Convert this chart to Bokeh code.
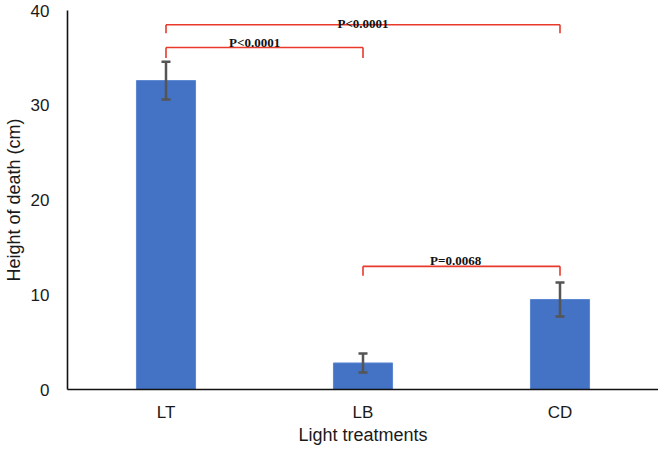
from bokeh.plotting import figure
from bokeh.models import FactorRange, Range1d, ColumnDataSource, Whisker, TeeHead
from bokeh.transform import dodge
from bokeh.core.properties import value
from bokeh.embed import file_html
from bokeh.resources import INLINE

# data
categories = ["LT", "LB", "CD"]
heights = [32.6, 2.8, 9.5]
errors = [2.0, 1.0, 1.8]

# significance brackets
bracket_left = ["LT", "LT", "LB"]
bracket_right = ["LB", "CD", "CD"]
bracket_top = [36.1, 38.5, 13.0]
bracket_foot = [35.0, 37.6, 12.0]
bracket_text = ["P<0.0001", "P<0.0001", "P=0.0068"]
text_y = [36.6, 38.6, 13.6]
text_shift = [0.45, 1.0, 0.47]

p = figure(width=658, height=447, x_range=FactorRange(*categories, range_padding=0),
           y_range=Range1d(0, 40), output_backend="svg", toolbar_location=None,
           min_border_left=58, min_border_right=0, min_border_top=10, min_border_bottom=55)
p.outline_line_color = None
p.xgrid.grid_line_color = None
p.ygrid.grid_line_color = None

src = ColumnDataSource(dict(x=categories, top=heights,
                            upper=[h + e for h, e in zip(heights, errors)],
                            lower=[h - e for h, e in zip(heights, errors)]))
p.vbar(x="x", top="top", width=0.3, source=src, fill_color="#4472C4", line_color="#5A85D0", line_width=1)

w = Whisker(base="x", upper="upper", lower="lower", source=src, level="overlay",
            line_color="#555555", line_width=2.5,
            upper_head=TeeHead(size=9, line_color="#555555", line_width=2.5),
            lower_head=TeeHead(size=9, line_color="#555555", line_width=2.5))
p.add_layout(w)

red = "#E8392B"
bsrc = ColumnDataSource(dict(l=bracket_left, r=bracket_right, t=bracket_top, f=bracket_foot))
p.segment(x0="l", y0="t", x1="r", y1="t", source=bsrc, line_color=red, line_width=1.6)
p.segment(x0="l", y0="t", x1="l", y1="f", source=bsrc, line_color=red, line_width=1.6)
p.segment(x0="r", y0="t", x1="r", y1="f", source=bsrc, line_color=red, line_width=1.6)

for i in range(3):
    p.text(x=dodge("x", text_shift[i], range=p.x_range), y="y", text="txt",
           source=ColumnDataSource(dict(x=[bracket_left[i]], y=[text_y[i]], txt=[bracket_text[i]])),
           text_font=value("Liberation Serif"), text_font_style="bold", text_font_size="13px",
           text_align="center", text_baseline="alphabetic", text_color="#111111")

for ax in (p.xaxis[0], p.yaxis[0]):
    ax.major_tick_line_color = None
    ax.minor_tick_line_color = None
    ax.axis_line_color = "#111111"
    ax.axis_line_width = 1.6
    ax.major_label_text_font = "Liberation Sans"
    ax.major_label_text_font_size = "17px"
    ax.major_label_text_color = "#1a1a1a"
    ax.axis_label_text_font = "Liberation Sans"
    ax.axis_label_text_font_size = "18px"
    ax.axis_label_text_font_style = "normal"
    ax.axis_label_text_color = "#1a1a1a"

p.yaxis.ticker = [0, 10, 20, 30, 40]
p.yaxis.major_label_standoff = 12
p.yaxis.axis_label = "Height of death (cm)"
p.yaxis.axis_label_standoff = 4
p.xaxis.axis_label = "Light treatments"
p.xaxis.major_label_standoff = 7
p.xaxis.axis_label_standoff = 0

open("out.html", "w").write(file_html(p, INLINE))
